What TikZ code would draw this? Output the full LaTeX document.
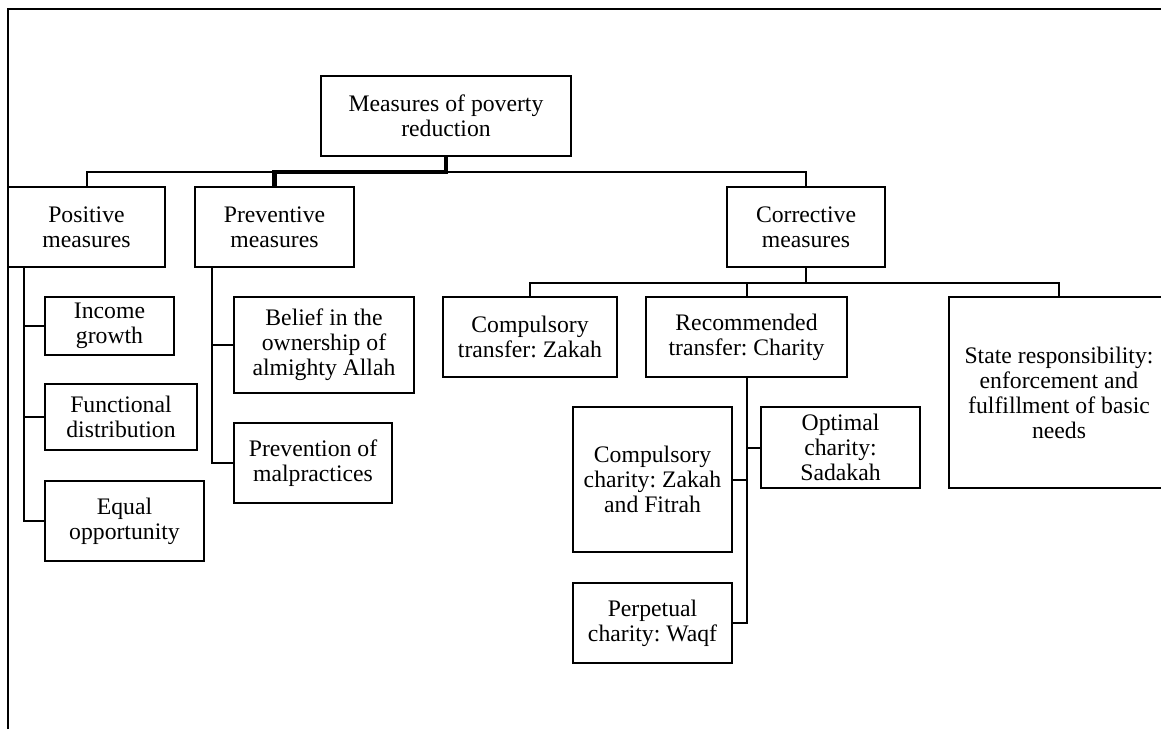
\documentclass[tikz,border=0pt]{standalone}
\usepackage{fontspec}
\setmainfont{Liberation Serif}
\frenchspacing
\begin{document}
\begin{tikzpicture}[x=1pt,y=-1pt,
  box/.style={draw=black, line width=2.8pt, fill=white, inner sep=0pt, align=center,
    font=\fontsize{23.7}{25}\selectfont},
  conn/.style={draw=black, line width=2pt},
  heavy/.style={draw=black, line width=4.2pt},
  frame/.style={draw=black, line width=2.4pt}]
\useasboundingbox (0,0) rectangle (1161,729);

% page frame (top and left edges)
\coordinate (fl) at (8,729);
\coordinate (fc) at (8,9);
\coordinate (fr) at (1161,9);
\draw[frame] (fl) -- (fc) -- (fr);

% top level
\node[box, minimum width=250pt, minimum height=80pt] (root) at (446,116) {Measures of poverty\\reduction};

\node[box, minimum width=157pt, minimum height=80pt] (pos) at (86.5,227) {Positive\\measures};
\node[box, minimum width=159pt, minimum height=80pt] (prv) at (274.5,227) {Preventive\\measures};
\node[box, minimum width=158pt, minimum height=80pt] (cor) at (806,227) {Corrective\\measures};

% positive measures
\node[box, minimum width=129pt, minimum height=58pt] (inc) at (109.5,326) {Income\\growth};
\node[box, minimum width=152pt, minimum height=66pt] (fun) at (121,417) {Functional\\distribution};
\node[box, minimum width=159pt, minimum height=80pt] (equ) at (124.5,521) {Equal\\opportunity};

% preventive measures
\node[box, minimum width=180pt, minimum height=96pt] (bel) at (324,345) {Belief in the\\ownership of\\almighty Allah};
\node[box, minimum width=158pt, minimum height=80pt] (mal) at (313,463) {Prevention of\\malpractices};

% corrective measures
\node[box, minimum width=174pt, minimum height=80pt] (ctz) at (530,337) {Compulsory\\transfer: Zakah};
\node[box, minimum width=201pt, minimum height=80pt] (rec) at (746.5,337) {Recommended\\transfer: Charity};
\node[box, minimum width=220pt, minimum height=191pt] (sta) at (1059,392.5) {State responsibility:\\enforcement and\\fulfillment of basic\\needs};

% kinds of charity
\node[box, minimum width=159pt, minimum height=145pt] (cch) at (652.5,479.5) {Compulsory\\charity: Zakah\\and Fitrah};
\node[box, minimum width=159pt, minimum height=81pt] (opt) at (840.5,447.5) {Optimal\\charity:\\Sadakah};
\node[box, minimum width=159pt, minimum height=80pt] (wqf) at (652.5,623) {Perpetual\\charity: Waqf};

% root to the three kinds of measures
\coordinate (bus) at (446,172);
\draw[conn] (pos.north) |- (bus) -| (cor.north);
\draw[heavy] (root.south) -- (bus) -| (prv.north);

% positive measures branch
\coordinate (pv) at (24,267);
\draw[conn] (pv) |- (equ.west);
\draw[conn] (inc.west) -- (inc.west -| pv);
\draw[conn] (fun.west) -- (fun.west -| pv);

% preventive measures branch
\coordinate (vv) at (212,267);
\draw[conn] (vv) |- (mal.west);
\draw[conn] (bel.west) -- (bel.west -| vv);

% corrective measures branch
\coordinate (cb) at (806,283);
\draw[conn] (cor.south) -- (cb);
\draw[conn] (ctz.north) |- (cb) -| (sta.north);
\draw[conn] (rec.north) -- (rec.north |- cb);

% recommended transfer branch
\draw[conn] (rec.south) |- (wqf.east);
\draw[conn] (opt.west) -- (opt.west -| rec.south);
\draw[conn] (cch.east) -- (cch.east -| rec.south);
\end{tikzpicture}
\end{document}
